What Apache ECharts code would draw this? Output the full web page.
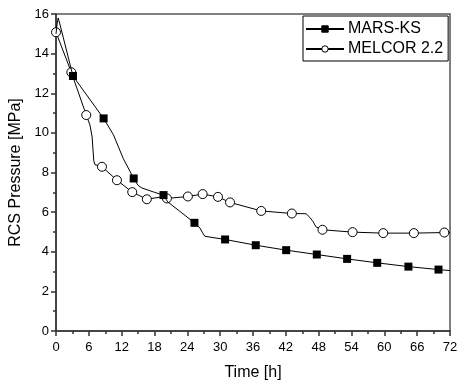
<!DOCTYPE html>
<html>
<head>
<meta charset="utf-8">
<script src="https://cdn.jsdelivr.net/npm/echarts@6/dist/echarts.min.js"></script>
<style>
  html, body { margin: 0; padding: 0; background: #fff; }
  #chart { width: 457px; height: 383px; }
</style>
</head>
<body>
<div id="chart"></div>
<script>
// RCS pressure vs time, MARS-KS vs MELCOR 2.2
const seriesNames = ['MARS-KS', 'MELCOR 2.2'];

// line path points [time h, pressure MPa]
const marsLine = [
  [0, 15.0], [0.2, 15.5], [0.4, 15.8], [0.7, 15.5],
  [10.5, 9.9], [12.3, 8.7], [15.0, 7.35], [15.7, 7.22], [18, 7.0],
  [20.4, 6.52], [23.0, 5.96], [26.3, 5.2], [26.8, 4.95], [27.2, 4.78],
  [72, 3.05]
];
const marsMarkers = [
  [3.1, 12.87], [8.7, 10.73], [14.2, 7.7], [19.65, 6.86], [25.3, 5.46],
  [30.9, 4.62], [36.5, 4.33], [42.06, 4.08], [47.66, 3.86], [53.2, 3.64],
  [58.7, 3.44], [64.4, 3.25], [69.9, 3.10]
];

const melcorLine = [
  [6.2, 10.4], [6.6, 9.8], [6.9, 8.6], [7.1, 8.4],
  [19.36, 6.77], [45.7, 5.92], [46.4, 5.73], [47.0, 5.51], [47.5, 5.26],
  [72, 4.97]
];
const melcorMarkers = [
  [0, 15.08], [2.8, 13.06], [5.53, 10.9], [8.4, 8.29], [11.14, 7.61],
  [13.93, 7.01], [16.6, 6.65], [20.27, 6.69], [24.1, 6.79], [26.8, 6.91],
  [29.6, 6.77], [31.8, 6.49], [37.5, 6.06], [43.1, 5.93], [48.7, 5.11],
  [54.2, 4.99], [59.8, 4.94], [65.4, 4.94], [70.96, 4.97]
];

// merge path + marker points, only markers get a symbol
function buildData(line, markers) {
  const pts = line.map(p => ({ value: p, symbol: 'none' }))
    .concat(markers.map(p => ({ value: p })));
  pts.sort((a, b) => a.value[0] - b.value[0]);
  return pts;
}

const font = 'Liberation Sans, Arial, sans-serif';
const chart = echarts.init(document.getElementById('chart'));

chart.setOption({
  animation: false,
  backgroundColor: '#fff',
  textStyle: { fontFamily: font },
  grid: {
    left: 56, right: 7, top: 14, bottom: 52,
    show: true, borderColor: '#555', borderWidth: 1.5,
    containLabel: false,
    outerBoundsMode: 'none'
  },
  legend: {
    orient: 'vertical',
    left: 303, top: 16,
    width: 145,
    borderColor: '#000', borderWidth: 1,
    padding: [5, 5, 4, 2],
    itemWidth: 38, itemHeight: 8, itemGap: 4,
    itemStyle: { borderWidth: 1 },
    textStyle: { fontSize: 16, color: '#000', fontFamily: font, padding: [0, 0, 0, -1] },
    data: seriesNames
  },
  xAxis: {
    type: 'value',
    min: 0, max: 72, interval: 6,
    name: 'Time [h]',
    nameLocation: 'middle',
    nameGap: 34,
    nameTextStyle: { fontSize: 16, color: '#000' },
    axisLine: { lineStyle: { color: '#333', width: 1.5 } },
    axisTick: { length: 5, lineStyle: { color: '#333', width: 1.5 } },
    minorTick: { show: true, splitNumber: 2, length: 3, lineStyle: { color: '#333', width: 1.5 } },
    axisLabel: { fontSize: 13, color: '#000', margin: 10 },
    splitLine: { show: false }
  },
  yAxis: {
    type: 'value',
    min: 0, max: 16, interval: 2,
    name: 'RCS Pressure [MPa]',
    nameLocation: 'middle',
    nameGap: 27,
    nameTextStyle: { fontSize: 16, color: '#000' },
    axisLine: { lineStyle: { color: '#333', width: 1.5 } },
    axisTick: { length: 5, lineStyle: { color: '#333', width: 1.5 } },
    minorTick: { show: true, splitNumber: 2, length: 3, lineStyle: { color: '#333', width: 1.5 } },
    axisLabel: { fontSize: 13, color: '#000', margin: 7 },
    splitLine: { show: false }
  },
  series: [
    {
      name: seriesNames[0],
      type: 'line',
      data: buildData(marsLine, marsMarkers),
      symbol: 'rect',
      symbolSize: 8,
      showAllSymbol: true,
      lineStyle: { color: '#000', width: 1 },
      itemStyle: { color: '#000', borderColor: '#000', borderWidth: 0 },
      z: 3
    },
    {
      name: seriesNames[1],
      type: 'line',
      data: buildData(melcorLine, melcorMarkers),
      symbol: 'circle',
      symbolSize: 9,
      showAllSymbol: true,
      lineStyle: { color: '#000', width: 1 },
      itemStyle: { color: '#fff', borderColor: '#000', borderWidth: 1 },
      z: 2
    }
  ]
});
</script>
</body>
</html>
